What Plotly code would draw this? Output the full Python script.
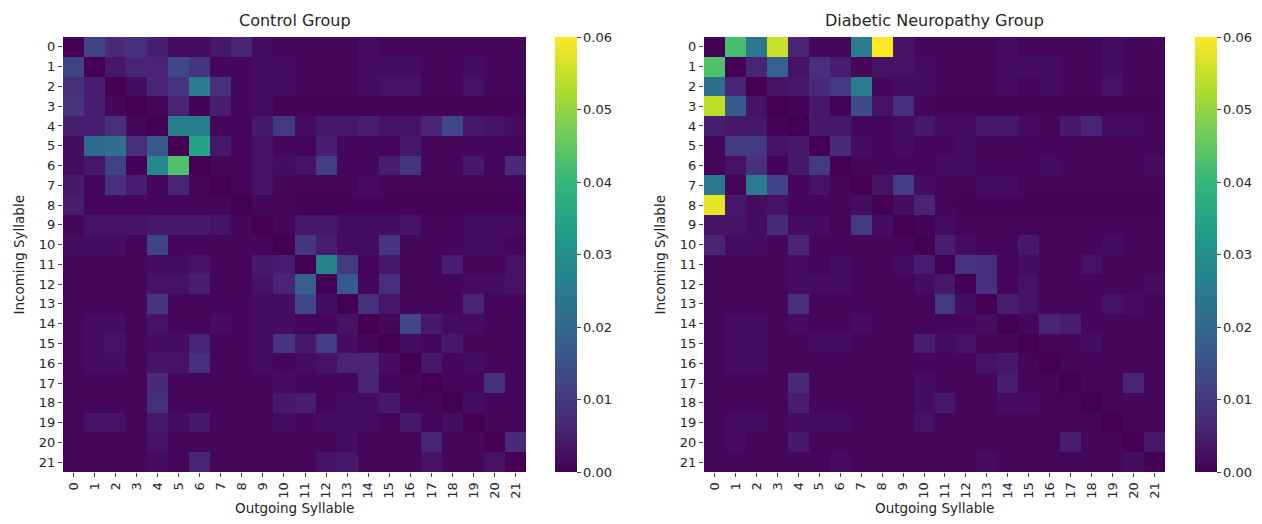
import plotly.graph_objects as go

syllables = [str(i) for i in range(22)]
titles = ["Control Group", "Diabetic Neuropathy Group"]
cbar_ticks = [0.00, 0.01, 0.02, 0.03, 0.04, 0.05, 0.06]

control = [
    [0, 0.012, 0.007, 0.008, 0.005, 0.002, 0.002, 0.004, 0.006, 0.002, 0.001, 0.001, 0.001, 0.001, 0.002, 0.001, 0.001, 0.001, 0.001, 0.001, 0.001, 0.001],
    [0.012, 0, 0.004, 0.006, 0.006, 0.013, 0.009, 0.001, 0.001, 0.002, 0.002, 0.001, 0.001, 0.001, 0.002, 0.002, 0.002, 0.001, 0.001, 0.002, 0.001, 0.001],
    [0.008, 0.005, 0, 0.002, 0.006, 0.009, 0.025, 0.008, 0.001, 0.002, 0.002, 0.001, 0.001, 0.001, 0.002, 0.003, 0.003, 0.001, 0.001, 0.003, 0.001, 0.001],
    [0.009, 0.005, 0.001, 0, 0.001, 0.006, 0.0003, 0.005, 0.001, 0.002, 0.0005, 0.0005, 0.0005, 0.0005, 0.0005, 0.0005, 0.0005, 0.0005, 0.0005, 0.0005, 0.0005, 0.0005],
    [0.005, 0.005, 0.008, 0.001, 0, 0.026, 0.026, 0.001, 0.001, 0.004, 0.010, 0.002, 0.004, 0.004, 0.005, 0.003, 0.003, 0.006, 0.013, 0.004, 0.003, 0.002],
    [0.002, 0.020, 0.022, 0.008, 0.017, 0, 0.035, 0.004, 0.001, 0.003, 0.001, 0.001, 0.005, 0.001, 0.001, 0.001, 0.004, 0.001, 0.001, 0.001, 0.001, 0.001],
    [0.002, 0.004, 0.012, 0.0003, 0.028, 0.043, 0, 0.001, 0.001, 0.003, 0.002, 0.003, 0.011, 0.001, 0.001, 0.005, 0.009, 0.001, 0.001, 0.004, 0.001, 0.007],
    [0.004, 0.001, 0.008, 0.005, 0.001, 0.006, 0.001, 0, 0.001, 0.003, 0.001, 0.001, 0.001, 0.001, 0.002, 0.001, 0.001, 0.001, 0.001, 0.001, 0.001, 0.001],
    [0.005, 0.001, 0.001, 0.001, 0.001, 0.001, 0.001, 0.001, 0, 0.001, 0.001, 0.0005, 0.0005, 0.0005, 0.0005, 0.0005, 0.0005, 0.0005, 0.0005, 0.0005, 0.0005, 0.0005],
    [0.001, 0.003, 0.003, 0.003, 0.004, 0.004, 0.004, 0.003, 0.001, 0, 0.001, 0.004, 0.004, 0.002, 0.002, 0.002, 0.003, 0.001, 0.001, 0.002, 0.002, 0.002],
    [0.002, 0.002, 0.002, 0.001, 0.012, 0.001, 0.001, 0.001, 0.001, 0.001, 0, 0.009, 0.005, 0.002, 0.002, 0.009, 0.001, 0.001, 0.001, 0.002, 0.002, 0.001],
    [0.001, 0.001, 0.001, 0.001, 0.002, 0.002, 0.003, 0.001, 0.001, 0.004, 0.005, 0, 0.027, 0.010, 0.001, 0.004, 0.001, 0.001, 0.005, 0.001, 0.001, 0.003],
    [0.001, 0.001, 0.001, 0.001, 0.003, 0.003, 0.005, 0.001, 0.001, 0.003, 0.006, 0.018, 0, 0.017, 0.001, 0.008, 0.001, 0.001, 0.001, 0.002, 0.002, 0.003],
    [0.001, 0.001, 0.001, 0.001, 0.009, 0.001, 0.001, 0.001, 0.001, 0.002, 0.002, 0.013, 0.002, 0, 0.008, 0.004, 0.001, 0.001, 0.001, 0.006, 0.001, 0.001],
    [0.001, 0.002, 0.002, 0.001, 0.003, 0.001, 0.001, 0.002, 0.001, 0.002, 0.002, 0.001, 0.001, 0.003, 0, 0.001, 0.013, 0.004, 0.002, 0.002, 0.001, 0.001],
    [0.001, 0.002, 0.003, 0.001, 0.002, 0.002, 0.006, 0.001, 0.001, 0.002, 0.009, 0.004, 0.011, 0.002, 0.001, 0, 0.002, 0.001, 0.004, 0.001, 0.001, 0.001],
    [0.001, 0.002, 0.002, 0.001, 0.003, 0.003, 0.008, 0.001, 0.001, 0.002, 0.001, 0.002, 0.003, 0.006, 0.006, 0.002, 0, 0.004, 0.001, 0.002, 0.001, 0.001],
    [0.001, 0.001, 0.001, 0.001, 0.007, 0.001, 0.001, 0.001, 0.001, 0.001, 0.002, 0.001, 0.001, 0.001, 0.006, 0.001, 0.001, 0, 0.001, 0.001, 0.008, 0.001],
    [0.001, 0.001, 0.001, 0.001, 0.008, 0.001, 0.001, 0.001, 0.001, 0.001, 0.004, 0.005, 0.001, 0.002, 0.002, 0.004, 0.001, 0.001, 0, 0.002, 0.001, 0.001],
    [0.001, 0.003, 0.003, 0.001, 0.004, 0.002, 0.004, 0.001, 0.001, 0.001, 0.002, 0.001, 0.002, 0.002, 0.002, 0.001, 0.004, 0.001, 0.002, 0, 0.001, 0.001],
    [0.001, 0.001, 0.001, 0.001, 0.003, 0.001, 0.001, 0.001, 0.001, 0.001, 0.001, 0.001, 0.001, 0.002, 0.001, 0.001, 0.001, 0.006, 0.001, 0.001, 0, 0.007],
    [0.001, 0.001, 0.001, 0.001, 0.002, 0.001, 0.006, 0.001, 0.001, 0.001, 0.001, 0.001, 0.003, 0.004, 0.001, 0.001, 0.001, 0.003, 0.001, 0.001, 0.003, 0],
]

neuropathy = [
    [0, 0.042, 0.024, 0.055, 0.006, 0.001, 0.001, 0.025, 0.060, 0.003, 0.001, 0.001, 0.001, 0.001, 0.002, 0.001, 0.001, 0.001, 0.001, 0.002, 0.001, 0.001],
    [0.043, 0, 0.006, 0.019, 0.003, 0.008, 0.005, 0.001, 0.003, 0.003, 0.002, 0.001, 0.001, 0.001, 0.002, 0.002, 0.002, 0.001, 0.001, 0.002, 0.001, 0.001],
    [0.022, 0.006, 0, 0.003, 0.004, 0.007, 0.010, 0.025, 0.001, 0.002, 0.002, 0.001, 0.001, 0.001, 0.002, 0.001, 0.002, 0.001, 0.001, 0.003, 0.001, 0.001],
    [0.054, 0.017, 0.003, 0, 0.0005, 0.004, 0.0005, 0.014, 0.003, 0.008, 0.001, 0.0005, 0.0005, 0.0005, 0.0005, 0.0005, 0.0005, 0.0005, 0.0005, 0.0005, 0.0005, 0.0005],
    [0.005, 0.004, 0.004, 0.0005, 0, 0.004, 0.004, 0.001, 0.001, 0.002, 0.004, 0.002, 0.002, 0.004, 0.004, 0.002, 0.001, 0.004, 0.006, 0.002, 0.002, 0.001],
    [0.001, 0.010, 0.010, 0.003, 0.004, 0, 0.007, 0.002, 0.001, 0.002, 0.001, 0.001, 0.002, 0.001, 0.001, 0.001, 0.001, 0.001, 0.001, 0.001, 0.001, 0.001],
    [0.001, 0.003, 0.008, 0.0005, 0.004, 0.010, 0, 0.001, 0.001, 0.001, 0.001, 0.002, 0.002, 0.001, 0.001, 0.001, 0.002, 0.001, 0.001, 0.001, 0.001, 0.002],
    [0.024, 0.001, 0.025, 0.012, 0.001, 0.003, 0.001, 0, 0.003, 0.011, 0.002, 0.001, 0.001, 0.002, 0.002, 0.001, 0.001, 0.001, 0.001, 0.001, 0.001, 0.001],
    [0.058, 0.004, 0.002, 0.003, 0.001, 0.001, 0.001, 0.002, 0, 0.002, 0.006, 0.001, 0.0005, 0.0005, 0.0005, 0.0005, 0.0005, 0.0005, 0.0005, 0.0005, 0.0005, 0.0005],
    [0.003, 0.003, 0.002, 0.007, 0.002, 0.002, 0.001, 0.010, 0.002, 0, 0.0005, 0.002, 0.001, 0.001, 0.001, 0.001, 0.001, 0.001, 0.001, 0.001, 0.001, 0.001],
    [0.006, 0.002, 0.002, 0.001, 0.006, 0.001, 0.001, 0.001, 0.001, 0.001, 0, 0.005, 0.002, 0.001, 0.001, 0.004, 0.001, 0.001, 0.001, 0.002, 0.001, 0.001],
    [0.001, 0.001, 0.001, 0.001, 0.002, 0.001, 0.002, 0.001, 0.001, 0.002, 0.005, 0, 0.009, 0.008, 0.001, 0.002, 0.001, 0.001, 0.003, 0.001, 0.001, 0.001],
    [0.001, 0.001, 0.001, 0.001, 0.002, 0.002, 0.002, 0.001, 0.001, 0.001, 0.002, 0.004, 0, 0.008, 0.001, 0.003, 0.001, 0.001, 0.001, 0.001, 0.001, 0.002],
    [0.001, 0.001, 0.001, 0.001, 0.008, 0.001, 0.001, 0.001, 0.001, 0.001, 0.001, 0.010, 0.002, 0, 0.005, 0.003, 0.001, 0.001, 0.001, 0.003, 0.002, 0.001],
    [0.001, 0.002, 0.002, 0.001, 0.002, 0.001, 0.001, 0.002, 0.001, 0.001, 0.001, 0.001, 0.001, 0.002, 0, 0.001, 0.006, 0.005, 0.001, 0.001, 0.001, 0.001],
    [0.001, 0.002, 0.002, 0.001, 0.001, 0.002, 0.002, 0.001, 0.001, 0.001, 0.005, 0.002, 0.003, 0.001, 0.001, 0, 0.001, 0.001, 0.002, 0.001, 0.001, 0.001],
    [0.001, 0.002, 0.002, 0.001, 0.001, 0.001, 0.001, 0.001, 0.001, 0.001, 0.001, 0.001, 0.001, 0.003, 0.004, 0.001, 0, 0.001, 0.001, 0.001, 0.001, 0.001],
    [0.001, 0.001, 0.001, 0.001, 0.007, 0.001, 0.001, 0.001, 0.001, 0.001, 0.002, 0.001, 0.001, 0.001, 0.005, 0.001, 0.001, 0, 0.001, 0.001, 0.006, 0.001],
    [0.001, 0.001, 0.001, 0.001, 0.005, 0.001, 0.001, 0.001, 0.001, 0.001, 0.002, 0.004, 0.001, 0.001, 0.002, 0.002, 0.001, 0.001, 0, 0.001, 0.001, 0.001],
    [0.001, 0.002, 0.002, 0.001, 0.002, 0.002, 0.002, 0.001, 0.001, 0.001, 0.003, 0.001, 0.001, 0.001, 0.001, 0.001, 0.001, 0.001, 0.001, 0, 0.001, 0.001],
    [0.001, 0.002, 0.001, 0.001, 0.004, 0.001, 0.001, 0.001, 0.001, 0.001, 0.001, 0.001, 0.001, 0.001, 0.001, 0.001, 0.001, 0.005, 0.001, 0.001, 0, 0.004],
    [0.001, 0.001, 0.001, 0.001, 0.001, 0.001, 0.002, 0.001, 0.001, 0.001, 0.001, 0.001, 0.001, 0.002, 0.001, 0.001, 0.001, 0.001, 0.001, 0.001, 0.002, 0],
]

# The page body has an 8px margin, so the figure is drawn 8px in from the window edge.
OFF = 8
W, H = 1262 - 2 * OFF, 524 - 2 * OFF
FONT = "DejaVu Sans"
TXT = "#262626"

def px_x(v):
    return (v - OFF) / W

def px_y(v):
    return 1 - (v - OFF) / H

panels = [
    dict(z=control, x0=63, x1=526, cb=555),
    dict(z=neuropathy, x0=704, x1=1165, cb=1195),
]
top, bottom = 37, 472

fig = go.Figure()
for i, p in enumerate(panels):
    suffix = "" if i == 0 else "2"
    fig.add_trace(go.Heatmap(
        z=p["z"], x=syllables, y=syllables,
        xaxis="x" + suffix, yaxis="y" + suffix,
        colorscale="Viridis", zmin=0, zmax=0.06,
        colorbar=dict(
            x=px_x(p["cb"]), xanchor="left", xpad=0, ypad=0,
            y=px_y((top + bottom) / 2), yanchor="middle",
            len=(bottom - top) / H, lenmode="fraction",
            thickness=22, thicknessmode="pixels",
            outlinewidth=0,
            tickvals=cbar_ticks, tickformat=".2f",
            ticks="outside", ticklen=4, tickwidth=1, tickcolor="#444",
            tickfont=dict(family=FONT, size=13, color=TXT),
        ),
    ))
    axcommon = dict(
        ticks="outside", ticklen=4, tickwidth=1, tickcolor="#444",
        tickfont=dict(family=FONT, size=13, color=TXT),
        showgrid=False, zeroline=False, showline=False,
        type="category",
    )
    fig.update_layout(**{
        "xaxis" + suffix: dict(domain=[px_x(p["x0"]), px_x(p["x1"])], anchor="y" + suffix,
                               tickangle=-90, **axcommon),
        "yaxis" + suffix: dict(domain=[px_y(bottom), px_y(top)], anchor="x" + suffix,
                               autorange="reversed", **axcommon),
    })
    cx = (p["x0"] + p["x1"]) / 2
    fig.add_annotation(text=titles[i], x=px_x(cx), y=px_y(21), xref="paper", yref="paper",
                       showarrow=False, xanchor="center", yanchor="middle",
                       font=dict(family=FONT, size=16, color=TXT))
    fig.add_annotation(text="Outgoing Syllable", x=px_x(cx), y=px_y(508), xref="paper", yref="paper",
                       showarrow=False, xanchor="center", yanchor="middle",
                       font=dict(family=FONT, size=13.5, color=TXT))
    fig.add_annotation(text="Incoming Syllable", x=px_x(p["x0"] - 45), y=px_y((top + bottom) / 2),
                       xref="paper", yref="paper", textangle=-90,
                       showarrow=False, xanchor="center", yanchor="middle",
                       font=dict(family=FONT, size=13.5, color=TXT))

fig.update_layout(
    width=W, height=H,
    margin=dict(l=0, r=0, t=0, b=0),
    paper_bgcolor="white", plot_bgcolor="white",
    showlegend=False,
)

fig.write_html("out.html")
